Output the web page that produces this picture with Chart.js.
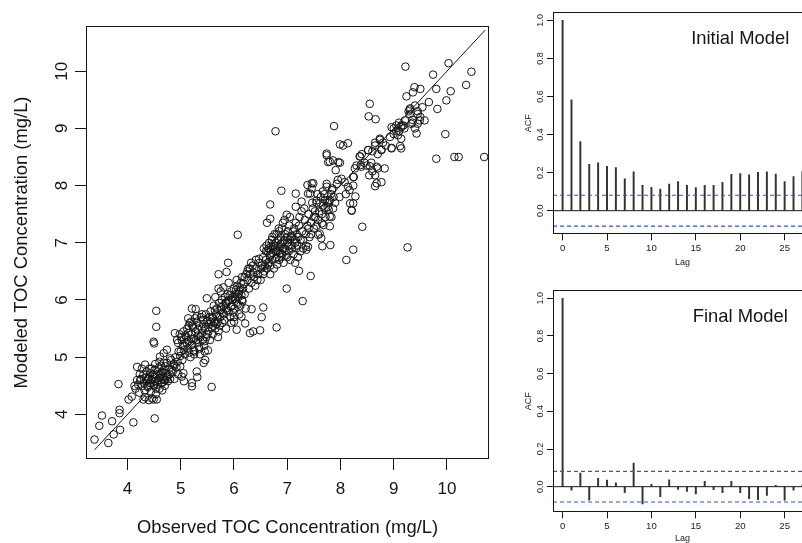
<!DOCTYPE html>
<html><head><meta charset="utf-8">
<script src="https://cdn.jsdelivr.net/npm/chart.js@4.4.1/dist/chart.umd.min.js"></script>
<style>
html,body{margin:0;padding:0;background:#fff;overflow:hidden;width:802px;height:543px;}
#wrap{position:relative;width:802px;height:543px;overflow:hidden;background:#fff;}
canvas{position:absolute;}
#main{left:0;top:0;}
#acf1{left:510px;top:0;}
#acf2{left:510px;top:271px;}
</style></head><body>
<div id="wrap">
<canvas id="main" width="515" height="543"></canvas>
<canvas id="acf1" width="302" height="271"></canvas>
<canvas id="acf2" width="302" height="280"></canvas>
</div>
<script>
// ---------- DATA ----------
const mainTicks = [4,5,6,7,8,9,10];
const lineEnds = [3.38, 10.72];

const lowCluster = [[4.15,4.45],[4.18,4.6],[4.2,4.52],[4.22,4.38],[4.23,4.7],[4.25,4.62],[4.27,4.8],[4.28,4.5],[4.3,4.7],[4.31,4.55],[4.32,4.42],[4.33,4.3],[4.34,4.65],[4.35,4.58],[4.36,4.75],[4.37,4.5],[4.38,4.48],[4.39,4.62],[4.4,4.65],[4.4,4.25],[4.41,4.8],[4.42,4.55],[4.43,4.72],[4.44,4.4],[4.45,4.8],[4.45,4.6],[4.46,4.28],[4.47,4.62],[4.48,4.7],[4.49,4.52],[4.5,4.5],[4.5,4.66],[4.51,4.78],[4.52,4.58],[4.52,4.88],[4.53,4.35],[4.54,4.45],[4.55,4.68],[4.56,4.52],[4.57,4.75],[4.58,4.6],[4.59,4.82],[4.6,4.45],[4.6,4.92],[4.61,4.64],[4.62,4.7],[4.63,4.85],[4.64,4.56],[4.65,4.55],[4.65,4.42],[4.66,4.74],[4.67,4.65],[4.68,4.78],[4.69,4.6],[4.7,4.6],[4.7,4.5],[4.71,4.84],[4.72,4.72],[4.73,4.66],[4.74,4.9],[4.75,4.68],[4.76,4.58],[4.78,4.8],[4.79,4.7],[4.8,4.62],[4.82,4.95],[4.83,4.78],[4.85,4.75],[4.87,4.88],[4.88,4.85],[4.9,5.0],[4.92,4.82],[4.94,4.92],[4.88,4.62],[4.95,4.7],[5.05,4.72]];

const midCluster = [[4.95,5.25],[4.96,5.1],[4.98,5.4],[4.99,5.02],[5.0,5.1],[5.01,5.35],[5.02,5.3],[5.03,4.95],[5.04,5.2],[5.05,5.45],[5.06,5.12],[5.07,5.2],[5.08,5.05],[5.09,5.38],[5.1,5.35],[5.11,5.25],[5.12,5.5],[5.13,5.15],[5.14,5.42],[5.15,5.28],[5.16,5.08],[5.17,5.6],[5.18,5.0],[5.19,5.32],[5.2,5.4],[5.21,5.22],[5.22,5.55],[5.23,5.52],[5.24,5.12],[5.25,5.32],[5.26,5.1],[5.27,5.68],[5.28,5.45],[5.29,5.3],[5.3,5.62],[5.31,5.25],[5.32,5.48],[5.33,5.38],[5.34,5.18],[5.35,5.55],[5.36,5.05],[5.37,5.35],[5.38,5.7],[5.39,5.5],[5.4,5.42],[5.41,5.3],[5.42,5.65],[5.43,5.58],[5.44,5.2],[5.45,5.28],[5.46,5.5],[5.47,5.75],[5.48,5.35],[5.49,5.62],[5.5,5.65],[5.5,5.4],[5.51,5.12],[5.52,5.45],[5.53,5.58],[5.54,5.7],[5.55,5.3],[5.45,5.1],[5.35,5.15],[5.25,5.05],[5.3,5.72],[5.4,5.75],[5.2,5.62],[5.15,5.55]];

const denseCluster = [[5.56,5.8],[5.57,5.62],[5.58,5.52],[5.59,5.7],[5.6,5.68],[5.6,5.4],[5.61,5.55],[5.62,5.9],[5.63,5.6],[5.64,5.82],[5.65,5.5],[5.65,6.05],[5.66,5.75],[5.67,5.58],[5.68,5.85],[5.69,5.72],[5.7,5.62],[5.7,5.35],[5.71,5.45],[5.72,5.95],[5.73,5.55],[5.74,5.7],[5.75,5.82],[5.75,6.15],[5.76,5.88],[5.77,6.0],[5.78,5.6],[5.79,5.78],[5.8,5.9],[5.8,6.22],[5.81,5.75],[5.82,5.65],[5.83,6.05],[5.84,5.95],[5.85,5.85],[5.85,5.5],[5.86,5.95],[5.87,5.82],[5.88,6.1],[5.89,5.98],[5.9,5.8],[5.9,6.3],[5.91,6.0],[5.92,6.08],[5.93,5.7],[5.94,5.88],[5.95,6.15],[5.95,5.6],[5.96,5.9],[5.97,6.0],[5.98,6.05],[5.99,5.78],[6.0,6.2],[6.0,5.7],[6.01,5.85],[6.02,6.02],[6.03,6.1],[6.04,6.18],[6.05,5.95],[6.05,6.35],[6.06,6.25],[6.07,5.92],[6.08,6.05],[6.09,6.1],[6.1,6.15],[6.1,5.75],[6.11,6.22],[6.12,5.9],[6.13,6.3],[6.14,6.08],[6.15,6.0],[6.15,6.4],[6.16,5.98],[6.17,6.2],[6.18,6.28],[6.2,6.1],[6.2,6.4],[6.22,5.85],[6.23,6.45],[6.25,6.35],[6.25,6.5],[6.27,6.55],[6.28,6.2],[6.3,6.45],[6.3,6.55],[6.32,6.65],[6.33,6.3],[6.35,6.6],[6.36,6.48],[6.38,6.4],[6.4,6.25],[6.41,6.7],[6.42,6.55],[6.44,6.35],[6.45,6.45],[6.47,6.72],[6.48,6.65],[6.5,6.35],[6.51,6.55],[6.52,6.6]];

const upperCluster = [[6.55,6.75],[6.55,6.45],[6.56,6.9],[6.57,6.5],[6.58,6.6],[6.6,6.7],[6.6,6.85],[6.61,6.95],[6.62,6.55],[6.63,6.85],[6.64,6.62],[6.65,6.65],[6.65,6.9],[6.66,7.0],[6.67,6.78],[6.68,6.6],[6.68,6.45],[6.69,6.88],[6.7,6.95],[6.7,6.8],[6.71,7.05],[6.72,6.7],[6.72,7.1],[6.73,6.82],[6.74,6.92],[6.75,6.55],[6.75,6.95],[6.76,7.15],[6.77,6.9],[6.78,7.0],[6.78,6.72],[6.79,6.85],[6.8,6.75],[6.8,7.15],[6.81,6.62],[6.82,6.85],[6.82,6.95],[6.83,7.05],[6.84,7.25],[6.85,6.7],[6.85,7.2],[6.86,6.92],[6.87,6.82],[6.88,7.1],[6.88,6.98],[6.89,6.75],[6.9,6.8],[6.9,7.25],[6.91,7.0],[6.92,6.9],[6.92,7.35],[6.93,6.65],[6.94,7.05],[6.95,6.9],[6.95,7.4],[6.96,7.15],[6.97,6.85],[6.98,6.78],[6.99,7.1],[7.0,7.0],[7.0,6.75],[7.01,7.2],[7.02,6.95],[7.03,6.85],[7.04,7.3],[7.05,7.05],[7.05,7.45],[7.06,6.7],[7.07,7.12],[7.08,6.95],[7.09,6.9],[7.1,7.1],[7.11,7.2],[7.12,6.8],[7.13,7.25],[7.14,7.05],[7.15,7.0],[7.15,6.65],[7.16,7.35],[7.17,6.9],[7.18,7.15],[7.19,6.95],[7.2,6.75],[7.21,7.1],[7.22,7.3],[7.23,7.45],[7.25,7.05],[7.25,6.85],[7.27,7.55],[7.28,7.2],[7.3,6.9],[7.3,7.05],[7.32,7.6],[7.33,7.4],[7.35,7.15],[7.35,6.95]];

const highCluster = [[7.38,7.3],[7.4,7.5],[7.4,7.25],[7.42,7.1],[7.43,7.86],[7.45,7.35],[7.45,7.15],[7.46,7.95],[7.47,7.7],[7.48,7.6],[7.49,8.04],[7.5,7.25],[7.5,7.45],[7.52,7.55],[7.53,7.45],[7.55,7.7],[7.55,7.3],[7.57,7.85],[7.58,7.4],[7.58,7.14],[7.6,7.55],[7.62,7.7],[7.63,7.8],[7.65,7.5],[7.65,7.34],[7.67,7.9],[7.68,7.65],[7.7,7.85],[7.7,7.6],[7.71,7.75],[7.72,7.45],[7.74,7.98],[7.75,7.7],[7.76,7.62],[7.78,7.58],[7.8,7.75],[7.8,7.46],[7.82,7.85],[7.84,7.92],[7.85,7.95],[7.87,7.8],[7.9,7.7],[7.95,8.1],[7.98,7.8],[8.02,8.12],[8.1,7.85],[8.18,7.69],[8.21,7.57],[8.3,8.35],[8.38,8.36],[8.45,8.4],[8.55,8.34],[8.68,8.04],[7.8,8.42],[7.74,8.56],[8.4,8.55],[8.6,8.6],[8.7,8.55],[8.8,8.75],[8.85,8.7],[9.0,9.0],[9.05,8.95],[9.1,9.1],[9.15,9.05],[9.2,9.0],[9.3,9.25],[9.35,9.15],[9.4,9.4],[9.45,9.3],[9.0,8.9],[9.1,8.95],[9.18,9.05],[9.3,9.33],[9.28,9.3],[9.4,9.0],[9.5,9.2],[9.45,9.25],[9.35,9.1],[9.12,8.69],[8.96,8.66],[8.77,8.63],[8.65,8.75],[8.74,8.82],[8.52,8.62],[8.37,8.51],[7.99,8.40],[7.99,8.72],[8.24,8.0],[8.27,8.3],[8.25,8.15],[8.6,8.25],[8.58,8.4],[8.7,8.3]];

const scatterOutliers = [[3.38,3.56],[3.64,3.50],[3.47,3.80],[3.52,3.98],[3.71,3.88],[3.74,3.65],[3.86,3.73],[3.85,4.08],[3.83,4.53],[4.11,3.86],[4.51,3.93],[3.85,4.02],[4.02,4.26],[4.08,4.31],[4.13,4.50],[4.18,4.83],[4.24,4.60],[4.30,4.26],[4.33,4.87],[4.43,4.55],[4.49,4.26],[4.55,4.26],[4.54,5.81],[4.54,5.53],[4.49,5.27],[4.50,5.24],[4.61,5.01],[4.68,5.07],[4.74,5.13],[4.80,4.98],[4.64,4.72],[4.74,4.63],[4.68,4.90],[4.89,5.42],[4.93,5.30],[4.99,4.84],[5.02,4.66],[5.06,4.58],[5.21,4.49],[5.21,4.55],[5.30,4.75],[5.31,4.65],[5.58,4.48],[5.43,4.90],[5.46,4.95],[5.14,5.68],[5.21,5.85],[5.28,5.84],[5.49,6.03],[5.71,6.45],[5.86,6.49],[5.89,6.65],[5.71,6.20],[6.07,7.14],[6.05,5.48],[6.30,5.42],[6.36,5.45],[6.49,5.47],[6.80,5.52],[6.52,5.70],[6.55,5.87],[6.33,5.84],[6.14,5.71],[6.21,5.59],[6.00,5.62],[6.99,6.20],[7.29,5.98],[7.44,6.42],[7.22,6.51],[7.36,6.88],[7.39,6.93],[7.66,6.94],[7.81,6.96],[7.80,7.29],[7.61,7.16],[7.64,7.08],[7.68,7.31],[7.83,7.45],[7.86,7.60],[7.79,7.72],[7.74,8.03],[7.46,8.04],[7.38,8.01],[7.39,7.86],[7.16,7.86],[6.89,7.91],[6.68,7.67],[6.68,7.42],[6.62,7.35],[6.99,7.49],[7.16,7.63],[7.27,7.72],[7.55,7.74],[7.74,8.53],[7.77,8.41],[7.86,8.44],[7.96,8.41],[7.91,8.27],[7.88,9.04],[8.05,8.70],[8.14,8.74],[8.11,6.70],[8.24,6.88],[8.41,7.28],[8.21,7.56],[8.24,7.69],[8.28,7.81],[8.14,7.98],[8.17,7.92],[8.08,8.06],[7.93,8.03],[8.24,8.15],[8.36,8.51],[8.39,8.33],[8.49,8.35],[8.52,8.62],[8.65,8.70],[8.74,8.80],[8.77,8.62],[8.54,8.18],[8.65,8.18],[8.68,8.33],[8.65,7.99],[8.77,8.06],[8.83,8.30],[8.55,9.43],[8.53,9.21],[8.66,9.16],[6.78,8.95],[8.96,8.65],[8.93,8.85],[8.96,9.02],[9.05,9.05],[9.08,8.88],[9.14,8.82],[9.14,8.65],[9.14,9.02],[9.21,9.14],[9.24,9.56],[9.22,10.08],[9.31,9.35],[9.36,9.63],[9.39,9.72],[9.50,9.69],[9.33,9.08],[9.43,8.91],[9.45,9.08],[9.49,9.14],[9.58,9.14],[9.54,9.37],[9.66,9.46],[9.74,9.94],[9.80,9.69],[9.82,9.34],[9.80,8.47],[9.97,8.90],[9.99,9.49],[10.03,10.14],[10.07,9.65],[10.14,8.50],[10.22,8.50],[10.36,9.76],[10.46,9.99],[10.70,8.50],[9.26,6.92]];

const lags = [0,1,2,3,4,5,6,7,8,9,10,11,12,13,14,15,16,17,18,19,20,21,22,23,24,25,26,27];
const acfInitial = [1.0,0.582,0.363,0.244,0.251,0.233,0.226,0.167,0.204,0.133,0.123,0.114,0.140,0.153,0.133,0.121,0.133,0.133,0.149,0.191,0.195,0.188,0.202,0.204,0.193,0.153,0.179,0.205];
const acfFinal = [1.0,-0.019,0.072,-0.072,0.044,0.035,0.021,-0.032,0.125,-0.092,0.012,-0.053,0.037,-0.014,-0.025,-0.039,0.028,-0.016,-0.032,0.028,-0.032,-0.064,-0.069,-0.046,0.007,-0.072,-0.019,0.010];
const ciBound = 0.081;
const acfXTicks = [0,5,10,15,20,25];
const acfYTicks = [0,0.2,0.4,0.6,0.8,1.0];
const panelTitles = ['Initial Model','Final Model'];

// ---------- DRAWING ----------
const FONT = "'Liberation Sans', Arial, Helvetica, sans-serif";
const INK = '#151515';
const CI_BLUE = '#2b4ff6';

const boxPlugin = {
  id: 'box',
  afterDatasetsDraw(chart) {
    const {ctx, chartArea: a} = chart;
    ctx.save();
    ctx.strokeStyle = INK; ctx.lineWidth = 1;
    const l = Math.round(a.left) + 0.5, t = Math.round(a.top) + 0.5;
    const r = Math.round(a.right) - 0.5, b = Math.round(a.bottom) - 0.5;
    ctx.strokeRect(l, t, r - l, b - t);
    ctx.restore();
  }
};

const allPoints = [].concat(lowCluster, midCluster, denseCluster, upperCluster, highCluster, scatterOutliers);

new Chart(document.getElementById('main'), {
  type: 'scatter',
  data: { datasets: [
    { data: allPoints.map(p => ({x: p[0], y: p[1]})), pointRadius: 3.8, pointHoverRadius: 3.8,
      borderColor: INK, backgroundColor: 'rgba(0,0,0,0)', borderWidth: 1, pointStyle: 'circle' },
    { data: lineEnds.map(v => ({x: v, y: v})), showLine: true, borderColor: INK, borderWidth: 1,
      pointRadius: 0, fill: false }
  ]},
  options: {
    responsive: false, animation: false, events: [],
    layout: { padding: { left: 0, top: 26, right: 26, bottom: 0 } },
    plugins: { legend: { display: false }, tooltip: { enabled: false } },
    scales: {
      x: { type: 'linear', min: 3.22, max: 10.79,
        afterBuildTicks: s => { s.ticks = mainTicks.map(v => ({value: v})); },
        afterFit: s => { s.height = 84; },
        ticks: { font: { family: FONT, size: 17 }, color: INK, padding: 9, maxRotation: 0, minRotation: 0, autoSkip: false, callback: v => String(v) },
        grid: { display: true, drawOnChartArea: false, drawTicks: true, tickLength: 11, tickColor: INK, color: INK, lineWidth: 1 },
        border: { display: false },
        title: { display: true, text: 'Observed TOC Concentration (mg/L)', font: { family: FONT, size: 18.4 }, color: INK, padding: { top: 0, bottom: 4 } }
      },
      y: { type: 'linear', min: 3.22, max: 10.79,
        afterBuildTicks: s => { s.ticks = mainTicks.map(v => ({value: v})); },
        afterFit: s => { s.width = 86; },
        ticks: { font: { family: FONT, size: 17 }, color: INK, padding: 3.5, minRotation: 90, maxRotation: 90, crossAlign: 'center', autoSkip: false, callback: v => String(v) },
        grid: { display: true, drawOnChartArea: false, drawTicks: true, tickLength: 11, tickColor: INK, color: INK, lineWidth: 1 },
        border: { display: false },
        title: { display: true, text: 'Modeled TOC Concentration (mg/L)', font: { family: FONT, size: 18.4 }, color: INK, padding: { top: 11, bottom: 0 } }
      }
    }
  },
  plugins: [boxPlugin]
});

function acfChart(id, values, yMin, topPad, xHeight, lagPad, title) {
  const textPlugin = {
    id: 'panelText',
    afterDatasetsDraw(chart) {
      const {ctx, scales} = chart;
      ctx.save();
      ctx.font = '18.4px ' + FONT;
      ctx.fillStyle = INK;
      ctx.textAlign = 'center';
      ctx.textBaseline = 'middle';
      ctx.fillText(title, scales.x.getPixelForValue(20), scales.y.getPixelForValue(0.9));
      ctx.restore();
    }
  };
  const xs = [-1.08, 28.08];
  new Chart(document.getElementById(id), {
    type: 'bar',
    data: { datasets: [
      { type: 'line', data: xs.map(x => ({x, y: -ciBound})), borderColor: CI_BLUE, borderDash: [4, 3], borderWidth: 1.1, pointRadius: 0, order: 0 },
      { type: 'line', data: xs.map(x => ({x, y: ciBound})), borderColor: CI_BLUE, borderDash: [4, 3], borderWidth: 1.1, pointRadius: 0, order: 0 },
      { type: 'line', data: xs.map(x => ({x, y: 0})), borderColor: INK, borderWidth: 1, pointRadius: 0, order: 1 },
      { type: 'bar', data: lags.map((l, i) => ({x: l, y: values[i]})), backgroundColor: '#333', borderWidth: 0, barThickness: 1.3, order: 2 }
    ]},
    options: {
      responsive: false, animation: false, events: [],
      layout: { padding: { left: 0, top: topPad, right: 0, bottom: 0 } },
      plugins: { legend: { display: false }, tooltip: { enabled: false } },
      scales: {
        x: { type: 'linear', offset: false, min: -1.08, max: 28.08,
          afterBuildTicks: s => { s.ticks = acfXTicks.map(v => ({value: v})); },
          afterFit: s => { s.height = xHeight; },
          ticks: { font: { family: FONT, size: 9.6 }, color: '#222', padding: 2, maxRotation: 0, minRotation: 0, autoSkip: false, callback: v => String(v) },
          grid: { display: true, offset: false, drawOnChartArea: false, drawTicks: true, tickLength: 6, tickColor: INK, color: INK, lineWidth: 1 },
          border: { display: false },
          title: { display: true, text: 'Lag', font: { family: FONT, size: 9 }, color: '#222', padding: { top: 0, bottom: lagPad } }
        },
        y: { type: 'linear', min: yMin, max: 1.044,
          afterBuildTicks: s => { s.ticks = acfYTicks.map(v => ({value: v})); },
          afterFit: s => { s.width = 43; },
          ticks: { font: { family: FONT, size: 9 }, color: '#222', padding: 0, minRotation: 90, maxRotation: 90, crossAlign: 'center', autoSkip: false, callback: v => Number(v).toFixed(1) },
          grid: { display: true, drawOnChartArea: false, drawTicks: true, tickLength: 6, tickColor: INK, color: INK, lineWidth: 1 },
          border: { display: false },
          title: { display: true, text: 'ACF', font: { family: FONT, size: 9 }, color: '#222', padding: { top: 13, bottom: 0 } }
        }
      }
    },
    plugins: [boxPlugin, textPlugin]
  });
}

acfChart('acf1', acfInitial, -0.124, 12, 36.7, 2.9, panelTitles[0]);
acfChart('acf2', acfFinal, -0.136, 19, 38.7, 6.6, panelTitles[1]);
</script>
</body></html>
